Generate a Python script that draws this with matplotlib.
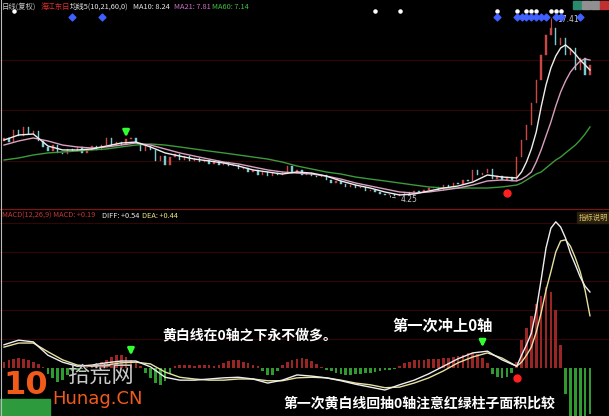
import numpy as np
import matplotlib
matplotlib.use("Agg")
import matplotlib.pyplot as plt
from matplotlib.lines import Line2D
from matplotlib.patches import Rectangle

plt.rcParams['font.family'] = ['Noto Sans CJK SC', 'DejaVu Sans']

W, H = 609, 416

# ---------------- data ----------------
# daily closes, bar 0..120
closes = [8.6, 8.3, 9.2, 8.7, 9.4, 8.9, 9.1, 8.4, 7.9, 7.6, 8.1, 7.5,
          7.4, 7.8, 7.6, 7.9, 7.5, 7.7, 8.0, 7.7, 8.1, 8.6, 8.0, 8.3,
          8.1, 8.5, 8.6, 8.2, 7.6, 8.0, 7.7, 6.9, 7.3, 6.6, 7.2, 7.4,
          7.0, 7.3, 6.9, 7.1, 6.8, 7.0, 6.7, 6.9, 6.6, 6.8, 6.5, 6.6,
          6.3, 6.4, 6.1, 6.2, 5.9, 6.1, 5.8, 6.0, 5.9, 6.1, 6.5, 6.0,
          6.2, 5.9, 6.0, 5.8, 5.7, 5.9, 5.5, 5.3, 5.4, 5.2, 5.0, 5.1,
          4.9, 5.0, 4.7, 4.8, 4.6, 4.5, 4.4, 4.5, 4.35, 4.5, 4.6, 4.5,
          4.7, 4.6, 4.8, 4.9, 5.0, 4.8, 5.1, 5.0, 5.3, 5.2, 5.5, 5.4,
          6.2, 5.9, 6.0, 6.3, 5.6, 5.8, 5.5, 5.7, 5.4,
          7.19, 8.44, 9.54, 11.16, 12.85, 14.69, 16.16, 16.68, 15.43,
          15.94, 14.69, 15.21, 13.59, 14.47, 13.22, 13.96]
first_open = 8.4
high_bar, high_val = 112, 17.41
low_bar, low_val = 79, 4.25

# moving averages sampled at these bars
line_x = list(range(0, 106, 3)) + list(range(106, 121))
ma10 = [8.44, 8.81, 8.88, 8.00, 7.71, 7.71, 7.78, 8.00, 8.22, 8.29,
        7.93, 7.49, 7.26, 7.04, 6.90, 6.75, 6.53, 6.24, 6.09, 5.94,
        6.09, 6.01, 5.79, 5.43, 5.13, 4.91, 4.62, 4.40, 4.47, 4.69,
        4.91, 5.06, 5.35, 5.87, 5.72, 5.65,
        6.09, 6.82, 7.78, 9.03, 10.87, 12.49, 13.74, 14.62, 15.21, 15.43,
        15.13, 14.76, 14.32, 13.96, 13.59]
ma21 = [8.07, 8.37, 8.59, 8.37, 8.07, 7.93, 7.85, 7.93, 8.07, 8.22,
        8.07, 7.78, 7.49, 7.26, 7.04, 6.82, 6.68, 6.46, 6.24, 6.09,
        6.01, 5.94, 5.79, 5.57, 5.28, 5.06, 4.84, 4.62, 4.54, 4.62,
        4.76, 4.91, 5.13, 5.43, 5.50, 5.43,
        5.57, 5.79, 6.09, 6.82, 7.71, 8.74, 9.76, 10.94, 11.97, 12.78,
        13.44, 13.88, 14.25, 14.40, 14.32]
ma60 = [6.97, 7.12, 7.34, 7.49, 7.56, 7.63, 7.71, 7.78, 7.93, 8.07,
        8.15, 8.07, 7.93, 7.78, 7.63, 7.49, 7.34, 7.19, 7.04, 6.82,
        6.53, 6.31, 6.09, 5.94, 5.72, 5.57, 5.43, 5.28, 5.13, 4.99,
        4.91, 4.91, 4.91, 4.91, 4.99, 5.13,
        5.28, 5.50, 5.72, 5.94, 6.09, 6.38, 6.68, 6.97, 7.19, 7.49,
        7.78, 8.07, 8.44, 8.88, 9.40]

# MACD lines at the same bars
diff = [0.40, 0.48, 0.45, 0.22, 0.10, 0.03, 0.05, 0.09, 0.12, 0.12,
        0.02, -0.16, -0.21, -0.21, -0.19, -0.17, -0.16, -0.19, -0.26, -0.21,
        -0.12, -0.14, -0.17, -0.22, -0.28, -0.33, -0.38, -0.29, -0.21, -0.10,
        0.03, 0.16, 0.26, 0.29, 0.14, 0.03,
        0.22, 0.40, 0.60, 1.00, 1.52, 2.07, 2.41, 2.52, 2.43, 2.24,
        1.98, 1.78, 1.57, 1.41, 1.31]
dea = [0.36, 0.43, 0.43, 0.28, 0.14, 0.05, 0.03, 0.05, 0.09, 0.10,
       0.07, -0.07, -0.16, -0.19, -0.21, -0.21, -0.19, -0.19, -0.22, -0.22,
       -0.17, -0.16, -0.17, -0.21, -0.26, -0.29, -0.34, -0.33, -0.26, -0.17,
       -0.05, 0.09, 0.19, 0.26, 0.17, 0.03,
       0.10, 0.22, 0.36, 0.62, 0.95, 1.34, 1.66, 2.00, 2.19, 2.21,
       2.10, 1.90, 1.66, 1.34, 0.90]
# MACD histogram, bar 0..120
macd_hist = [0.10, 0.14, 0.16, 0.17, 0.16, 0.14, 0.10, 0.07, 0.02,
             -0.10, -0.17, -0.24, -0.21, -0.12,
             -0.05, -0.03, -0.02, 0.01, 0.03,
             0.06, 0.10, 0.14, 0.19, 0.22, 0.22, 0.19, 0.14, 0.09, 0.04,
             -0.08, -0.17, -0.26, -0.29, -0.22, -0.10,
             0.03, 0.05, 0.06, 0.05, 0.04, 0.05, 0.06, 0.05, 0.04, 0.06,
             0.09, 0.12, 0.14, 0.13, 0.11, 0.09, 0.06, 0.03,
             -0.06, -0.12, -0.12, -0.05,
             0.05, 0.10, 0.14, 0.16, 0.17, 0.15, 0.12, 0.07, 0.02,
             -0.03, -0.06, -0.09, -0.11, -0.12, -0.12, -0.11, -0.10, -0.09,
             -0.08, -0.07, -0.06, -0.04, -0.03, -0.01,
             0.04, 0.08, 0.11, 0.13, 0.14, 0.14, 0.15, 0.15, 0.16, 0.17,
             0.18, 0.19, 0.21, 0.23, 0.25, 0.26, 0.24, 0.17, 0.08,
             -0.10, -0.16, -0.17, -0.16, -0.08,
             0.10, 0.48, 0.69, 0.90, 1.10, 1.24, 1.40, 1.31, 1.00, 0.40,
             -0.45, -0.85, -0.90, -0.90, -0.90, -0.80]

# signal markers
white_dots = [2, 76, 81, 101, 105, 107, 108, 109, 112, 113, 114]
blue_marks = [14, 20, 101, 105, 106, 107, 108, 109, 110, 111, 113, 114, 118]
white_dot_level, blue_level = 17.93, 17.45
price_buy = (25, 8.44)
price_sell = (103, 4.54)
macd_buys = [(26, 0.17), (98, 0.31)]
macd_sell = (105, -0.17)

price_grid = [6.90, 10.65, 14.32]
macd_grid = [0.5, 1.0, 1.5, 2.0, 2.5]

# ---------------- drawing ----------------
def fx(px):
    return px / W

def fy(py):
    return 1 - py / H

fig = plt.figure(figsize=(W / 100, H / 100), dpi=100, facecolor='black')

ax1 = fig.add_axes([0, fy(207), 1, (207 - 8) / H])
ax2 = fig.add_axes([0, 0, 1, (416 - 210) / H])
for ax in (ax1, ax2):
    ax.set_facecolor('none')
    ax.set_axis_off()
    ax.set_xlim(-0.82, 123.9)
ax1.set_ylim(3.515, 18.147)
ax2.set_ylim(-0.828, 2.724)

grid_col = '#300606'
for g in price_grid:
    ax1.axhline(g, color=grid_col, lw=0.8, zorder=0)
for g in macd_grid:
    ax2.axhline(g, color=grid_col, lw=0.8, zorder=0)

# candles
x = np.arange(len(closes))
c = np.array(closes)
o = np.r_[first_open, c[:-1]]
up = c >= o
ax1.bar(x[up], (c - o)[up], bottom=o[up], width=0.28,
        color='#c84848', edgecolor='#c84848', lw=0.3, zorder=2)
ax1.bar(x[~up], (c - o)[~up], bottom=o[~up], width=0.28,
        color='#80c8d0', edgecolor='#80c8d0', lw=0.3, zorder=2)
ax1.vlines(high_bar, max(c[high_bar], o[high_bar]), high_val, color='#c84848', lw=0.8)
ax1.vlines(low_bar, low_val, min(c[low_bar], o[low_bar]), color='#80c8d0', lw=0.8)

ax1.plot(line_x, ma60, color='#3c9a3c', lw=1.0, zorder=3)
ax1.plot(line_x, ma21, color='#d8a0c0', lw=1.0, zorder=3)
ax1.plot(line_x, ma10, color='#eeeeee', lw=1.0, zorder=4)

ax1.scatter(white_dots, [white_dot_level] * len(white_dots), s=5, color='white', zorder=5)
ax1.scatter(blue_marks, [blue_level] * len(blue_marks), s=12, marker='D',
            color='#4060ff', zorder=5)

ax1.text(high_bar + 1.2, high_val - 0.1, '17.41', color='#c8c8c8', fontsize=5.5,
         va='center', ha='left', family=['DejaVu Sans'])
ax1.annotate('4.25', xy=(low_bar, low_val), xytext=(low_bar + 2.3, low_val - 0.2),
             color='#c8c8c8', fontsize=5.5, va='center', family=['DejaVu Sans'],
             arrowprops=dict(arrowstyle='-', color='#c8c8c8', lw=0.6))

ax1.annotate('', xy=price_buy, xytext=(price_buy[0], price_buy[1] + 0.95),
             arrowprops=dict(arrowstyle='-|>', color='#30ff30', lw=2.0, mutation_scale=9))
ax1.plot(*price_sell, 'o', color='#ff2020', ms=5)

# MACD
hx = np.arange(len(macd_hist))
h = np.array(macd_hist)
ax2.bar(hx[h > 0], h[h > 0], width=0.55, color='#9a2525', lw=0, zorder=1)
ax2.bar(hx[h < 0], h[h < 0], width=0.55, color='#2f9a2f', lw=0, zorder=1)
ax2.plot(line_x, dea, color='#e6e0a0', lw=1.0, zorder=3)
ax2.plot(line_x, diff, color='#eeeeee', lw=1.0, zorder=3)
for bx, by in macd_buys:
    ax2.annotate('', xy=(bx, by), xytext=(bx, by + 0.22),
                 arrowprops=dict(arrowstyle='-|>', color='#30ff30', lw=2.0, mutation_scale=9))
ax2.plot(*macd_sell, 'o', color='#ff2020', ms=5)

# frame lines
fig.add_artist(Line2D([0, 1], [fy(209), fy(209)], color='#7a1818', lw=0.9))
fig.add_artist(Line2D([fx(1.2), fx(1.2)], [0, 1], color='#bbbbbb', lw=0.8))

# header of price panel
hdr = [(2, '日线(复权)', '#c8c8c8'), (41, '海江东日', '#e03030'),
       (70, '均线5(10,21,60,0)', '#e8e8e8'), (133, 'MA10: 8.24', '#e8e8e8'),
       (174, 'MA21: 7.81', '#d070c8'), (212, 'MA60: 7.14', '#40c040')]
for px, s, col in hdr:
    fig.text(fx(px), fy(7), s, color=col, fontsize=5.3, va='center', ha='left')

# icons top right
for px, col in [(573, '#2a8a70'), (582, '#909090'), (591, '#909090'), (600, '#c03030')]:
    fig.add_artist(Rectangle((fx(px), fy(9)), 8 / W, 8 / H, color=col,
                             transform=fig.transFigure))

# header of MACD panel
mhdr = [(2, 'MACD(12,26,9) MACD: +0.19', '#c83838'), (102, 'DIFF: +0.54', '#e8e8e8'),
        (142, 'DEA: +0.44', '#e8e880')]
for px, s, col in mhdr:
    fig.text(fx(px), fy(216), s, color=col, fontsize=5.3, va='center', ha='left')
fig.add_artist(Rectangle((fx(577), fy(223)), 32 / W, 11 / H, color='#2a2010',
                         transform=fig.transFigure))
fig.text(fx(579), fy(217.5), '指标说明', color='#d8c060', fontsize=5.3, va='center')

# annotations
fig.text(fx(162), fy(335), '黄白线在0轴之下永不做多。', color='white',
         fontsize=10, fontweight='bold', va='center')
fig.text(fx(392), fy(326), '第一次冲上0轴', color='white',
         fontsize=11, fontweight='bold', va='center')
fig.text(fx(284), fy(403), '第一次黄白线回抽0轴注意红绿柱子面积比较', color='white',
         fontsize=10, fontweight='bold', va='center')

# watermark and bottom-left box
fig.add_artist(Rectangle((0, 0), 50 / W, 17 / H, color='#2e9a3e',
                         transform=fig.transFigure))
fig.text(fx(3), fy(386), '10', color='#f05a1a', fontsize=23, fontweight='bold',
         va='center', ha='left', family=['DejaVu Sans'])
fig.text(fx(67), fy(376), '拾荒网', color='#c8c8c8', fontsize=16, va='center')
fig.text(fx(52), fy(399), 'Hunag.CN', color='#f05a1a', fontsize=13,
         va='center', family=['DejaVu Sans'])

fig.savefig('out.png', dpi=100, facecolor='black')
